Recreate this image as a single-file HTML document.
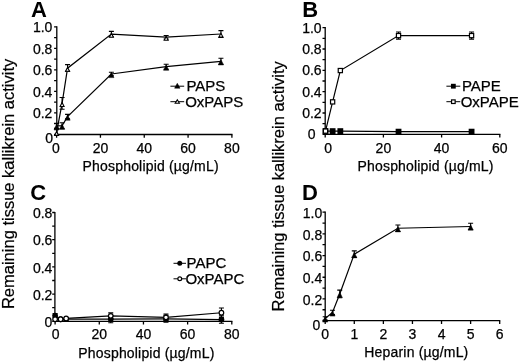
<!DOCTYPE html>
<html><head><meta charset="utf-8"><style>
html,body{margin:0;padding:0;background:#fff;width:520px;height:362px;overflow:hidden}
svg{display:block;filter:grayscale(1)}
.t{font-family:"Liberation Sans", sans-serif;font-size:14px;fill:#000;stroke:#000;stroke-width:0.25px}
.g{font-family:"Liberation Sans", sans-serif;font-size:15px;fill:#000;stroke:#000;stroke-width:0.25px}
.L{font-family:"Liberation Sans", sans-serif;font-size:22px;font-weight:bold;fill:#000}
.Y{font-family:"Liberation Sans", sans-serif;font-size:16.5px;fill:#000;stroke:#000;stroke-width:0.2px}
</style></head><body>
<svg width="520" height="362" viewBox="0 0 520 362">
<rect width="520" height="362" fill="#fff"/>
<path d="M56.80 26.30V134.50M56.15 134.50H232.50" stroke="#000" stroke-width="1.3" fill="none"/>
<path d="M54.10 134.45H56.80M54.10 123.69H56.80M54.10 112.94H56.80M54.10 102.18H56.80M54.10 91.43H56.80M54.10 80.67H56.80M54.10 69.92H56.80M54.10 59.16H56.80M54.10 48.41H56.80M54.10 37.65H56.80M54.10 26.90H56.80M56.60 134.50V137.70M100.43 134.50V137.70M144.25 134.50V137.70M188.08 134.50V137.70M231.90 134.50V137.70" stroke="#000" stroke-width="1.3" fill="none"/>
<text x="53.00" y="142.85" text-anchor="end" class="t">0</text>
<text x="52.40" y="118.44" text-anchor="end" class="t">0.2</text>
<text x="52.40" y="96.93" text-anchor="end" class="t">0.4</text>
<text x="52.40" y="75.42" text-anchor="end" class="t">0.6</text>
<text x="52.40" y="53.91" text-anchor="end" class="t">0.8</text>
<text x="52.40" y="32.40" text-anchor="end" class="t">1.0</text>
<text x="55.80" y="152.80" text-anchor="middle" class="t">0</text>
<text x="100.43" y="152.80" text-anchor="middle" class="t">20</text>
<text x="144.25" y="152.80" text-anchor="middle" class="t">40</text>
<text x="188.08" y="152.80" text-anchor="middle" class="t">60</text>
<text x="231.90" y="152.80" text-anchor="middle" class="t">80</text>
<text x="150.70" y="171.20" text-anchor="middle" class="t" letter-spacing="0.18">Phospholipid (µg/mL)</text>
<text x="30.90" y="17.10" class="L">A</text>
<path d="M56.60 125.85L62.08 125.74L67.56 116.60L111.38 74.01L166.16 66.69L220.94 61.32" stroke="#000" stroke-width="1.2" fill="none"/>
<path d="M56.60 132.30L62.08 103.37L67.56 68.20L111.38 34.11L166.16 37.22L220.94 34.00" stroke="#000" stroke-width="1.2" fill="none"/>
<path d="M56.60 123.34V128.35M54.10 123.34h5M54.10 128.35h5" stroke="#000" stroke-width="1.1" fill="none"/>
<path d="M62.08 122.74V128.74M59.58 122.74h5M59.58 128.74h5" stroke="#000" stroke-width="1.1" fill="none"/>
<path d="M67.56 114.39V118.80M65.06 114.39h5M65.06 118.80h5" stroke="#000" stroke-width="1.1" fill="none"/>
<path d="M111.38 72.31V75.71M108.88 72.31h5M108.88 75.71h5" stroke="#000" stroke-width="1.1" fill="none"/>
<path d="M166.16 64.19V69.20M163.66 64.19h5M163.66 69.20h5" stroke="#000" stroke-width="1.1" fill="none"/>
<path d="M220.94 58.32V64.32M218.44 58.32h5M218.44 64.32h5" stroke="#000" stroke-width="1.1" fill="none"/>
<polygon points="56.60,124.15 59.20,129.45 54.00,129.45" fill="#000" stroke="#000" stroke-width="0.5" stroke-linejoin="round"/>
<polygon points="62.08,124.04 64.68,129.34 59.48,129.34" fill="#000" stroke="#000" stroke-width="0.5" stroke-linejoin="round"/>
<polygon points="67.56,114.90 70.16,120.20 64.96,120.20" fill="#000" stroke="#000" stroke-width="0.5" stroke-linejoin="round"/>
<polygon points="111.38,72.31 113.98,77.61 108.78,77.61" fill="#000" stroke="#000" stroke-width="0.5" stroke-linejoin="round"/>
<polygon points="166.16,64.99 168.76,70.29 163.56,70.29" fill="#000" stroke="#000" stroke-width="0.5" stroke-linejoin="round"/>
<polygon points="220.94,59.62 223.54,64.92 218.34,64.92" fill="#000" stroke="#000" stroke-width="0.5" stroke-linejoin="round"/>
<path d="M56.60 129.79V134.80M54.10 129.79h5M54.10 134.80h5" stroke="#000" stroke-width="1.1" fill="none"/>
<path d="M62.08 97.56V109.18M59.58 97.56h5M59.58 109.18h5" stroke="#000" stroke-width="1.1" fill="none"/>
<path d="M67.56 64.60V71.40M65.06 64.60h5M65.06 71.40h5" stroke="#000" stroke-width="1.1" fill="none"/>
<path d="M111.38 31.41V36.81M108.88 31.41h5M108.88 36.81h5" stroke="#000" stroke-width="1.1" fill="none"/>
<path d="M166.16 35.43V39.02M163.66 35.43h5M163.66 39.02h5" stroke="#000" stroke-width="1.1" fill="none"/>
<path d="M220.94 30.60V37.40M218.44 30.60h5M218.44 37.40h5" stroke="#000" stroke-width="1.1" fill="none"/>
<polygon points="56.60,131.50 58.60,135.40 54.60,135.40" fill="#fff" stroke="#000" stroke-width="1.1"/>
<polygon points="62.08,102.57 64.08,106.47 60.08,106.47" fill="#fff" stroke="#000" stroke-width="1.1"/>
<polygon points="67.56,67.40 69.56,71.30 65.56,71.30" fill="#fff" stroke="#000" stroke-width="1.1"/>
<polygon points="111.38,33.31 113.38,37.21 109.38,37.21" fill="#fff" stroke="#000" stroke-width="1.1"/>
<polygon points="166.16,36.42 168.16,40.32 164.16,40.32" fill="#fff" stroke="#000" stroke-width="1.1"/>
<polygon points="220.94,33.20 222.94,37.10 218.94,37.10" fill="#fff" stroke="#000" stroke-width="1.1"/>
<path d="M170.40 86.20h13.8" stroke="#000" stroke-width="1.0"/>
<polygon points="177.30,83.30 180.00,88.20 174.60,88.20" fill="#000" stroke="#000" stroke-width="0.5" stroke-linejoin="round"/>
<text x="186.40" y="90.70" class="g">PAPS</text>
<path d="M170.40 101.70h13.8" stroke="#000" stroke-width="1.0"/>
<polygon points="177.30,99.70 179.40,103.20 175.20,103.20" fill="#fff" stroke="#000" stroke-width="1.1"/>
<text x="185.20" y="107.20" class="g">OxPAPS</text>
<path d="M325.20 27.10V134.30M324.55 134.30H500.40" stroke="#000" stroke-width="1.3" fill="none"/>
<path d="M322.50 134.30H325.20M322.50 123.64H325.20M322.50 112.98H325.20M322.50 102.32H325.20M322.50 91.66H325.20M322.50 81.00H325.20M322.50 70.34H325.20M322.50 59.68H325.20M322.50 49.02H325.20M322.50 38.36H325.20M322.50 27.70H325.20M325.20 134.30V137.50M383.40 134.30V137.50M441.60 134.30V137.50M499.80 134.30V137.50" stroke="#000" stroke-width="1.3" fill="none"/>
<text x="315.60" y="139.30" text-anchor="end" class="t">0</text>
<text x="321.60" y="117.98" text-anchor="end" class="t">0.2</text>
<text x="321.60" y="96.66" text-anchor="end" class="t">0.4</text>
<text x="321.60" y="75.34" text-anchor="end" class="t">0.6</text>
<text x="321.60" y="54.02" text-anchor="end" class="t">0.8</text>
<text x="321.60" y="32.70" text-anchor="end" class="t">1.0</text>
<text x="328.10" y="152.80" text-anchor="middle" class="t">0</text>
<text x="383.40" y="152.80" text-anchor="middle" class="t">20</text>
<text x="441.60" y="152.80" text-anchor="middle" class="t">40</text>
<text x="499.80" y="152.80" text-anchor="middle" class="t">60</text>
<text x="425.60" y="171.20" text-anchor="middle" class="t" letter-spacing="0.18">Phospholipid (µg/mL)</text>
<text x="302.30" y="17.10" class="L">B</text>
<path d="M325.49 131.10L332.62 131.10L340.33 131.10L398.53 131.64L471.57 131.64" stroke="#000" stroke-width="1.2" fill="none"/>
<path d="M325.49 131.10L332.62 101.89L340.33 70.55L398.53 35.59L471.57 35.59" stroke="#000" stroke-width="1.2" fill="none"/>
<path d="M398.53 130.04V133.23M396.03 130.04h5M396.03 133.23h5" stroke="#000" stroke-width="1.1" fill="none"/>
<path d="M471.57 130.04V133.23M469.07 130.04h5M469.07 133.23h5" stroke="#000" stroke-width="1.1" fill="none"/>
<rect x="322.59" y="128.20" width="5.8" height="5.8" fill="#000"/>
<rect x="329.72" y="128.20" width="5.8" height="5.8" fill="#000"/>
<rect x="337.43" y="128.20" width="5.8" height="5.8" fill="#000"/>
<rect x="395.63" y="128.74" width="5.8" height="5.8" fill="#000"/>
<rect x="468.67" y="128.74" width="5.8" height="5.8" fill="#000"/>
<path d="M325.49 128.97V133.23M322.99 128.97h5M322.99 133.23h5" stroke="#000" stroke-width="1.1" fill="none"/>
<path d="M398.53 32.07V39.11M396.03 32.07h5M396.03 39.11h5" stroke="#000" stroke-width="1.1" fill="none"/>
<path d="M471.57 32.07V39.11M469.07 32.07h5M469.07 39.11h5" stroke="#000" stroke-width="1.1" fill="none"/>
<rect x="323.39" y="129.00" width="4.20" height="4.20" fill="#fff" stroke="#000" stroke-width="1.2"/>
<rect x="330.52" y="99.79" width="4.20" height="4.20" fill="#fff" stroke="#000" stroke-width="1.2"/>
<rect x="338.23" y="68.45" width="4.20" height="4.20" fill="#fff" stroke="#000" stroke-width="1.2"/>
<rect x="396.43" y="33.49" width="4.20" height="4.20" fill="#fff" stroke="#000" stroke-width="1.2"/>
<rect x="469.47" y="33.49" width="4.20" height="4.20" fill="#fff" stroke="#000" stroke-width="1.2"/>
<path d="M446.40 86.20h13.9" stroke="#000" stroke-width="1.0"/>
<rect x="450.95" y="83.80" width="4.8" height="4.8" fill="#000"/>
<text x="461.90" y="90.70" class="g">PAPE</text>
<path d="M446.40 101.70h13.9" stroke="#000" stroke-width="1.0"/>
<rect x="451.55" y="99.90" width="3.60" height="3.60" fill="#fff" stroke="#000" stroke-width="1.2"/>
<text x="460.70" y="107.20" class="g">OxPAPE</text>
<path d="M54.90 211.90V321.30M54.25 321.30H232.40" stroke="#000" stroke-width="1.3" fill="none"/>
<path d="M52.20 321.30H54.90M52.20 307.70H54.90M52.20 294.10H54.90M52.20 280.50H54.90M52.20 266.90H54.90M52.20 253.30H54.90M52.20 239.70H54.90M52.20 226.10H54.90M52.20 212.50H54.90M55.10 321.30V324.50M99.28 321.30V324.50M143.45 321.30V324.50M187.62 321.30V324.50M231.80 321.30V324.50" stroke="#000" stroke-width="1.3" fill="none"/>
<text x="52.40" y="326.90" text-anchor="end" class="t">0</text>
<text x="52.40" y="299.70" text-anchor="end" class="t">0.2</text>
<text x="52.40" y="272.50" text-anchor="end" class="t">0.4</text>
<text x="52.40" y="245.30" text-anchor="end" class="t">0.6</text>
<text x="52.40" y="218.10" text-anchor="end" class="t">0.8</text>
<text x="55.70" y="338.90" text-anchor="middle" class="t">0</text>
<text x="99.28" y="338.90" text-anchor="middle" class="t">20</text>
<text x="143.45" y="338.90" text-anchor="middle" class="t">40</text>
<text x="187.62" y="338.90" text-anchor="middle" class="t">60</text>
<text x="231.80" y="338.90" text-anchor="middle" class="t">80</text>
<text x="146.40" y="357.60" text-anchor="middle" class="t" letter-spacing="0.18">Phospholipid (µg/mL)</text>
<text x="30.20" y="200.40" class="L">C</text>
<path d="M55.10 315.59L60.62 319.26L66.14 319.12L110.76 319.12L165.98 318.85L221.42 319.53" stroke="#000" stroke-width="1.2" fill="none"/>
<path d="M55.10 319.26L60.62 319.26L66.14 318.44L110.76 315.86L165.98 317.36L221.42 312.73" stroke="#000" stroke-width="1.2" fill="none"/>
<path d="M55.10 313.55V317.63M52.60 313.55h5M52.60 317.63h5" stroke="#000" stroke-width="1.1" fill="none"/>
<path d="M110.76 315.45V322.80M108.26 315.45h5M108.26 322.80h5" stroke="#000" stroke-width="1.1" fill="none"/>
<path d="M165.98 315.45V322.25M163.48 315.45h5M163.48 322.25h5" stroke="#000" stroke-width="1.1" fill="none"/>
<path d="M221.42 315.86V323.20M218.92 315.86h5M218.92 323.20h5" stroke="#000" stroke-width="1.1" fill="none"/>
<circle cx="55.10" cy="315.59" r="2.9" fill="#000"/>
<circle cx="60.62" cy="319.26" r="2.9" fill="#000"/>
<circle cx="66.14" cy="319.12" r="2.9" fill="#000"/>
<circle cx="110.76" cy="319.12" r="2.9" fill="#000"/>
<circle cx="165.98" cy="318.85" r="2.9" fill="#000"/>
<circle cx="221.42" cy="319.53" r="2.9" fill="#000"/>
<path d="M110.76 312.87V318.85M108.26 312.87h5M108.26 318.85h5" stroke="#000" stroke-width="1.1" fill="none"/>
<path d="M165.98 314.09V320.62M163.48 314.09h5M163.48 320.62h5" stroke="#000" stroke-width="1.1" fill="none"/>
<path d="M221.42 307.97V317.49M218.92 307.97h5M218.92 317.49h5" stroke="#000" stroke-width="1.1" fill="none"/>
<circle cx="55.10" cy="319.26" r="2.30" fill="#fff" stroke="#000" stroke-width="1.2"/>
<circle cx="60.62" cy="319.26" r="2.30" fill="#fff" stroke="#000" stroke-width="1.2"/>
<circle cx="66.14" cy="318.44" r="2.30" fill="#fff" stroke="#000" stroke-width="1.2"/>
<circle cx="110.76" cy="315.86" r="2.30" fill="#fff" stroke="#000" stroke-width="1.2"/>
<circle cx="165.98" cy="317.36" r="2.30" fill="#fff" stroke="#000" stroke-width="1.2"/>
<circle cx="221.42" cy="312.73" r="2.30" fill="#fff" stroke="#000" stroke-width="1.2"/>
<path d="M173.50 263.30h12.5" stroke="#000" stroke-width="1.0"/>
<circle cx="179.75" cy="263.30" r="2.5" fill="#000"/>
<text x="186.60" y="267.80" class="g">PAPC</text>
<path d="M173.50 278.80h12.5" stroke="#000" stroke-width="1.0"/>
<circle cx="179.75" cy="278.80" r="1.90" fill="#fff" stroke="#000" stroke-width="1.2"/>
<text x="185.40" y="284.30" class="g">OxPAPC</text>
<path d="M325.20 211.60V320.70M324.55 320.70H500.30" stroke="#000" stroke-width="1.3" fill="none"/>
<path d="M322.50 320.60H325.20M322.50 309.76H325.20M322.50 298.92H325.20M322.50 288.08H325.20M322.50 277.24H325.20M322.50 266.40H325.20M322.50 255.56H325.20M322.50 244.72H325.20M322.50 233.88H325.20M322.50 223.04H325.20M322.50 212.20H325.20M325.20 320.70V323.90M354.28 320.70V323.90M383.37 320.70V323.90M412.45 320.70V323.90M441.53 320.70V323.90M470.62 320.70V323.90M499.70 320.70V323.90" stroke="#000" stroke-width="1.3" fill="none"/>
<text x="320.20" y="329.50" text-anchor="end" class="t">0</text>
<text x="322.20" y="304.62" text-anchor="end" class="t">0.2</text>
<text x="322.20" y="282.94" text-anchor="end" class="t">0.4</text>
<text x="322.20" y="261.26" text-anchor="end" class="t">0.6</text>
<text x="322.20" y="239.58" text-anchor="end" class="t">0.8</text>
<text x="322.20" y="217.90" text-anchor="end" class="t">1.0</text>
<text x="325.20" y="338.60" text-anchor="middle" class="t">0</text>
<text x="354.28" y="338.60" text-anchor="middle" class="t">1</text>
<text x="383.37" y="338.60" text-anchor="middle" class="t">2</text>
<text x="412.45" y="338.60" text-anchor="middle" class="t">3</text>
<text x="441.53" y="338.60" text-anchor="middle" class="t">4</text>
<text x="470.62" y="338.60" text-anchor="middle" class="t">5</text>
<text x="499.70" y="338.60" text-anchor="middle" class="t">6</text>
<text x="416.40" y="356.70" text-anchor="middle" class="t" letter-spacing="0.18">Heparin (µg/mL)</text>
<text x="302.00" y="200.10" class="L">D</text>
<path d="M325.20 318.43L332.47 312.47L339.74 293.93L354.28 254.15L397.91 228.24L470.62 226.51" stroke="#000" stroke-width="1.2" fill="none"/>
<path d="M325.20 316.81V320.06M322.70 316.81h5M322.70 320.06h5" stroke="#000" stroke-width="1.1" fill="none"/>
<path d="M332.47 310.30V314.64M329.97 310.30h5M329.97 314.64h5" stroke="#000" stroke-width="1.1" fill="none"/>
<path d="M339.74 290.14V297.73M337.24 290.14h5M337.24 297.73h5" stroke="#000" stroke-width="1.1" fill="none"/>
<path d="M354.28 250.90V257.40M351.78 250.90h5M351.78 257.40h5" stroke="#000" stroke-width="1.1" fill="none"/>
<path d="M397.91 224.99V231.50M395.41 224.99h5M395.41 231.50h5" stroke="#000" stroke-width="1.1" fill="none"/>
<path d="M470.62 223.26V229.76M468.12 223.26h5M468.12 229.76h5" stroke="#000" stroke-width="1.1" fill="none"/>
<polygon points="325.20,316.73 327.80,322.03 322.60,322.03" fill="#000" stroke="#000" stroke-width="0.5" stroke-linejoin="round"/>
<polygon points="332.47,310.77 335.07,316.07 329.87,316.07" fill="#000" stroke="#000" stroke-width="0.5" stroke-linejoin="round"/>
<polygon points="339.74,292.23 342.34,297.53 337.14,297.53" fill="#000" stroke="#000" stroke-width="0.5" stroke-linejoin="round"/>
<polygon points="354.28,252.45 356.88,257.75 351.68,257.75" fill="#000" stroke="#000" stroke-width="0.5" stroke-linejoin="round"/>
<polygon points="397.91,226.54 400.51,231.84 395.31,231.84" fill="#000" stroke="#000" stroke-width="0.5" stroke-linejoin="round"/>
<polygon points="470.62,224.81 473.22,230.11 468.02,230.11" fill="#000" stroke="#000" stroke-width="0.5" stroke-linejoin="round"/>
<text class="Y" transform="translate(13.9 183.9) rotate(-90)" text-anchor="middle">Remaining tissue kallikrein activity</text>
<text class="Y" transform="translate(283.7 186.3) rotate(-90)" text-anchor="middle">Remaining tissue kallikrein activity</text>
</svg>
</body></html>
